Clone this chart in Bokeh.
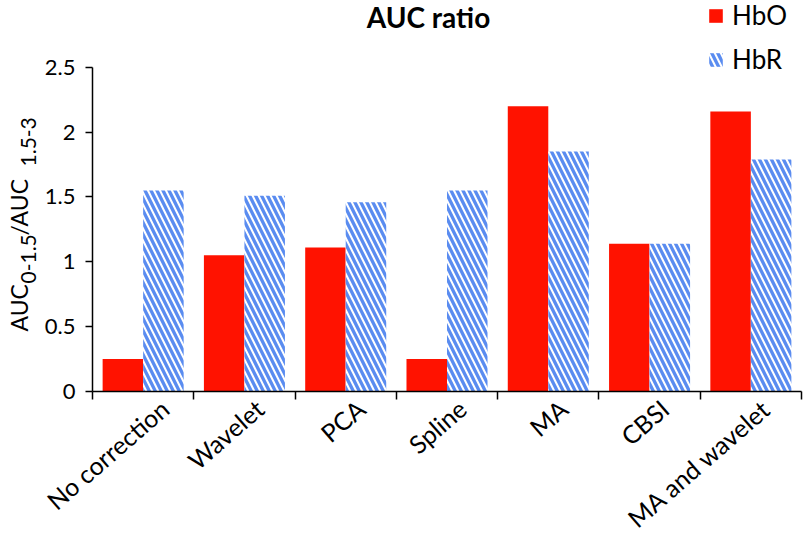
import math
from bokeh.plotting import figure
from bokeh.layouts import row
from bokeh.models import (Range1d, LinearAxis, FixedTicker, Label, Legend, LegendItem,
                          ColumnDataSource)
from bokeh.transform import dodge
from bokeh.embed import file_html
from bokeh.resources import INLINE

# ---- data ----
categories = ["No correction", "Wavelet", "PCA", "Spline", "MA", "CBSI", "MA and wavelet"]
hbo = [0.25, 1.05, 1.11, 0.25, 2.20, 1.14, 2.16]
hbr = [1.55, 1.51, 1.46, 1.55, 1.85, 1.14, 1.79]
series_names = ["HbO", "HbR"]
y_ticks = [0, 0.5, 1, 1.5, 2, 2.5]
y_tick_labels = ["0", "0.5", "1", "1.5", "2", "2.5"]
title_text = "AUC ratio"
ylabel_parts = ["AUC", "0-1.5", "/AUC", "1.5-3"]

FONT = "Lato"
RED = "#ff1200"
BLUE = "#5a8cf0"

n = len(categories)
centers = [i + 0.5 for i in range(n)]
bounds = list(range(n + 1))
label_pos = [c + 0.15 for c in centers]

Y_MAX = 2.5
FRAME_H = 392           # pixels from canvas top to the value 0
UNIT_PX = 130           # pixels per 1.0 on the value axis
y_top = FRAME_H / UNIT_PX  # value range extended up to the canvas top

src = ColumnDataSource(dict(x=centers, hbo=hbo, hbr=hbr))

# ---- narrow figure that carries the y-axis title (frame aligned with main frame) ----
pl = figure(width=40, height=547, x_range=Range1d(0, 40), y_range=Range1d(0, 547),
            x_axis_type=None, y_axis_type=None, output_backend="svg",
            toolbar_location=None, min_border=0)
pl.outline_line_color = None
pl.background_fill_color = "white"
pl.border_fill_color = "white"
ang = math.pi / 2
main_size, sub_size = "23px", "21px"
pieces = [(ylabel_parts[0], 60, 18, main_size),
          (ylabel_parts[1], 108, 28, sub_size),
          (ylabel_parts[2], 156, 18, main_size),
          (ylabel_parts[3], 225, 28, sub_size)]
for txt, yy, xx, fs in pieces:
    pl.add_layout(Label(x=xx, y=yy, x_units="screen", y_units="screen", text=txt,
                        angle=ang, text_font=FONT, text_font_size=fs,
                        text_align="left", text_baseline="middle",
                        text_color="black"))

# ---- main chart ----
p = figure(width=765, height=547, x_range=Range1d(0, n), y_range=Range1d(0, y_top),
           x_axis_type=None, y_axis_type=None, output_backend="svg",
           toolbar_location=None, min_border_left=52, min_border_right=4,
           min_border_top=0, min_border_bottom=155)
p.outline_line_color = None
p.background_fill_color = "white"
p.border_fill_color = "white"

r_hbo = p.vbar(x=dodge("x", -0.2), top="hbo", width=0.4, source=src, fill_color=RED,
               line_color=None)
r_hbr = p.vbar(x=dodge("x", 0.2), top="hbr", width=0.4, source=src, fill_color="white",
               line_color=None, hatch_pattern="\\", hatch_color=BLUE,
               hatch_scale=12, hatch_weight=3.3)

# y axis
yaxis = LinearAxis(ticker=FixedTicker(ticks=y_ticks), bounds=(0, Y_MAX),
                   major_label_overrides={t: l for t, l in zip(y_ticks, y_tick_labels)})
yaxis.axis_line_color = "black"
yaxis.axis_line_width = 1.5
yaxis.major_tick_line_width = 1.5
yaxis.major_tick_out = 7
yaxis.major_tick_in = 0
yaxis.minor_tick_line_color = None
yaxis.major_label_standoff = 10
yaxis.major_label_text_font = FONT
yaxis.major_label_text_font_size = "22px"
yaxis.major_label_text_color = "black"
p.add_layout(yaxis, "left")

# x axis: labels near centers, ticks at category boundaries
xaxis = LinearAxis(ticker=FixedTicker(ticks=label_pos, minor_ticks=bounds),
                   major_label_overrides={c: l for c, l in zip(label_pos, categories)})
xaxis.axis_line_color = "black"
xaxis.axis_line_width = 1.5
xaxis.major_tick_line_color = None
xaxis.major_tick_out = 8
xaxis.minor_tick_line_color = "black"
xaxis.minor_tick_line_width = 1.5
xaxis.minor_tick_out = 8
xaxis.minor_tick_in = 0
xaxis.major_label_orientation = 0.715
xaxis.major_label_standoff = 5
xaxis.major_label_text_font = FONT
xaxis.major_label_text_font_size = "25px"
xaxis.major_label_text_color = "black"
p.add_layout(xaxis, "below")

# title (inside the extended frame, above the value range)
p.add_layout(Label(x=336, y=375, x_units="screen", y_units="screen", text=title_text,
                   text_font=FONT, text_font_style="bold", text_font_size="28px",
                   text_align="center", text_baseline="middle", text_color="black"))

# legend
legend = Legend(items=[LegendItem(label=series_names[0], renderers=[r_hbo]),
                       LegendItem(label=series_names[1], renderers=[r_hbr])],
                location=(615, 316), orientation="vertical")
legend.border_line_color = None
legend.background_fill_alpha = 0
legend.padding = 0
legend.margin = 0
legend.spacing = 12
legend.glyph_width = 17
legend.glyph_height = 17
legend.label_height = 30
legend.label_standoff = 8
legend.label_text_font = FONT
legend.label_text_font_size = "26px"
legend.label_text_color = "black"
p.add_layout(legend, "center")

layout = row(pl, p, spacing=0)
open("out.html", "w").write(file_html(layout, INLINE))
